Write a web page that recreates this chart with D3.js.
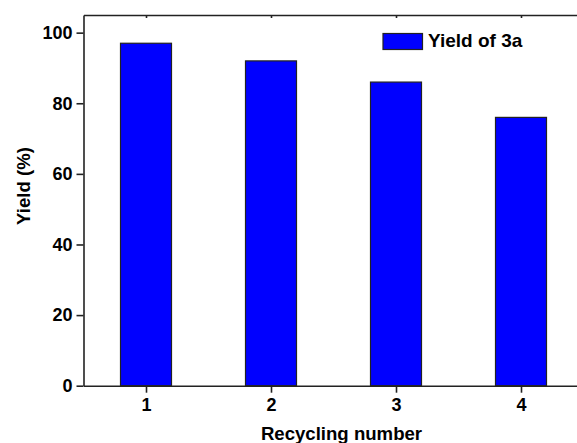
<!DOCTYPE html>
<html>
<head>
    <title>Recycling yield</title>
    <script src="https://d3js.org/d3.v7.min.js"></script>
    <style>
        body { margin: 0; background: #fff; }
        svg { display: block; font-family: Arial, "Liberation Sans", sans-serif; font-weight: bold; }
        .axis path, .axis line { stroke: #222; stroke-width: 1.6; }
        .axis text { font-size: 18px; font-weight: bold; fill: #000; font-family: Arial, "Liberation Sans", sans-serif; }
    </style>
</head>
<body>
    <svg width="577" height="443"></svg>
    <script>
        // data
        var cycles = [1, 2, 3, 4];
        var yields = [97, 92, 86, 76];
        var yTicks = [0, 20, 40, 60, 80, 100];
        var seriesName = "Yield of 3a";

        var svg = d3.select("svg");
        var m = {left: 83.5, top: 15, right: 583.5, bottom: 385.7};

        var x = d3.scaleLinear().domain([0.5, 4.5]).range([m.left, m.right]);
        var y = d3.scaleLinear().domain([0, 105]).range([m.bottom, m.top]);
        var barW = x(0.908) - x(0.5);

        // bars
        svg.append("g").selectAll("rect")
            .data(cycles)
            .enter().append("rect")
            .attr("x", function(d) { return x(d) - barW / 2; })
            .attr("y", function(d, i) { return y(yields[i]); })
            .attr("width", barW)
            .attr("height", function(d, i) { return m.bottom - y(yields[i]); })
            .attr("fill", "#0000ff")
            .attr("stroke", "#222")
            .attr("stroke-width", 1.2);

        // bottom axis
        svg.append("g")
            .attr("class", "axis")
            .attr("transform", "translate(0," + m.bottom + ")")
            .call(d3.axisBottom(x).tickValues(cycles).tickFormat(d3.format("d")).tickSize(7).tickSizeOuter(0).tickPadding(6));

        // top axis (inward ticks, no labels)
        svg.append("g")
            .attr("class", "axis")
            .attr("transform", "translate(0," + m.top + ")")
            .call(d3.axisTop(x).tickValues(cycles).tickFormat("").tickSize(-3).tickSizeOuter(0));

        // left axis
        svg.append("g")
            .attr("class", "axis")
            .attr("transform", "translate(" + m.left + ",0)")
            .call(d3.axisLeft(y).tickValues(yTicks).tickSize(7).tickSizeOuter(0).tickPadding(4));

        // legend
        svg.append("rect")
            .attr("x", 383).attr("y", 33.5)
            .attr("width", 39.5).attr("height", 16)
            .attr("fill", "#0000ff").attr("stroke", "#222").attr("stroke-width", 1.2);
        svg.append("text")
            .attr("x", 428).attr("y", 47)
            .style("font-size", "19px")
            .text(seriesName);

        // axis titles
        svg.append("text")
            .attr("x", 341.5).attr("y", 439.5)
            .attr("text-anchor", "middle")
            .style("font-size", "18.6px")
            .text("Recycling number");

        svg.append("text")
            .attr("transform", "translate(29.5,186) rotate(-90)")
            .attr("text-anchor", "middle")
            .style("font-size", "18.6px")
            .text("Yield (%)");
    </script>
</body>
</html>
